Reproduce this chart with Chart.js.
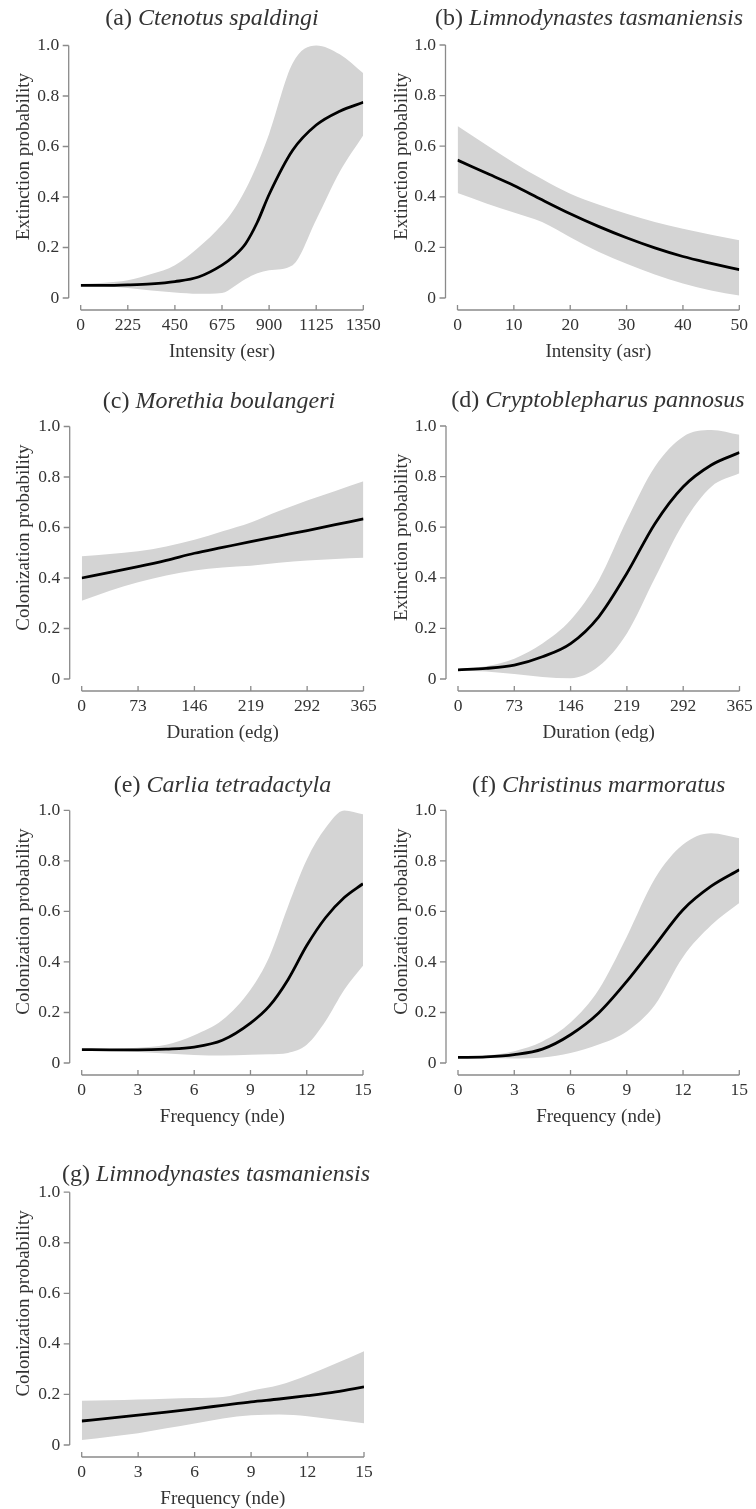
<!DOCTYPE html>
<html>
<head>
<meta charset="utf-8">
<script src="https://cdn.jsdelivr.net/npm/chart.js@4.4.1/dist/chart.umd.min.js"></script>
<style>
  html, body { margin: 0; padding: 0; background: #fff; overflow: hidden; }
  body { width: 756px; height: 1509px; position: relative; }
  canvas { position: absolute; }
  .panel-title {
    position: absolute;
    font-family: "Liberation Serif", "Times New Roman", serif;
    font-size: 24px;
    line-height: 24px;
    color: #333;
    white-space: nowrap;
    transform: translateX(-50%);
  }
  .panel-title i { font-style: italic; }
</style>
</head>
<body>
<script>
// ---- Shared y axis (probability) ----
const yTickValues = [0, 0.2, 0.4, 0.6, 0.8, 1.0];
const yTickLabels = ['0', '0.2', '0.4', '0.6', '0.8', '1.0'];

// ---- (a) Ctenotus spaldingi: extinction vs intensity (esr) ----
const aTicks = [0, 225, 450, 675, 900, 1125, 1350];
const aX     = [0, 112.5, 225, 337.5, 450, 562.5, 675, 731.25, 787.5, 843.75, 900, 1012.5, 1125, 1237.5, 1350];
const aMean  = [0.05, 0.05, 0.052, 0.056, 0.065, 0.083, 0.13, 0.165, 0.215, 0.3, 0.41, 0.585, 0.685, 0.74, 0.775];
const aUpper = [0.055, 0.06, 0.07, 0.095, 0.13, 0.2, 0.29, 0.35, 0.43, 0.53, 0.65, 0.93, 1.0, 0.965, 0.89];
const aLower = [0.05, 0.048, 0.04, 0.03, 0.022, 0.017, 0.02, 0.045, 0.075, 0.098, 0.11, 0.13, 0.31, 0.5, 0.645];

// ---- (b) Limnodynastes tasmaniensis: extinction vs intensity (asr) ----
const bTicks = [0, 10, 20, 30, 40, 50];
const bX     = [0, 5, 10, 15, 20, 25, 30, 35, 40, 45, 50];
const bMean  = [0.545, 0.495, 0.445, 0.388, 0.333, 0.283, 0.238, 0.198, 0.164, 0.137, 0.112];
const bUpper = [0.68, 0.607, 0.535, 0.47, 0.412, 0.37, 0.333, 0.3, 0.274, 0.25, 0.228];
const bLower = [0.415, 0.375, 0.338, 0.3, 0.24, 0.183, 0.135, 0.093, 0.057, 0.03, 0.01];

// ---- (c) Morethia boulangeri: colonization vs duration (edg) ----
const cTicks = [0, 73, 146, 219, 292, 365];
const cX     = [0, 36.5, 73, 109.5, 146, 182.5, 219, 255.5, 292, 328.5, 365];
const cMean  = [0.40, 0.422, 0.445, 0.47, 0.498, 0.521, 0.544, 0.566, 0.588, 0.611, 0.634];
const cUpper = [0.486, 0.495, 0.506, 0.525, 0.551, 0.585, 0.62, 0.665, 0.707, 0.745, 0.783];
const cLower = [0.31, 0.35, 0.383, 0.41, 0.43, 0.442, 0.449, 0.46, 0.469, 0.475, 0.48];

// ---- (d) Cryptoblepharus pannosus: extinction vs duration (edg) ----
const dTicks = [0, 73, 146, 219, 292, 365];
const dX     = [0, 36.5, 73, 109.5, 146, 182.5, 219, 255.5, 292, 328.5, 365];
const dMean  = [0.036, 0.042, 0.055, 0.088, 0.14, 0.246, 0.418, 0.615, 0.76, 0.846, 0.895];
const dUpper = [0.04, 0.05, 0.08, 0.14, 0.233, 0.39, 0.628, 0.84, 0.958, 0.984, 0.965];
const dLower = [0.033, 0.03, 0.02, 0.008, 0.003, 0.05, 0.18, 0.40, 0.615, 0.76, 0.813];

// ---- (e) Carlia tetradactyla: colonization vs frequency (nde) ----
const eTicks = [0, 3, 6, 9, 12, 15];
const eX     = [0, 1.5, 3, 4.5, 6, 7.5, 9, 10, 11, 12, 13, 14, 15];
const eMean  = [0.053, 0.052, 0.052, 0.055, 0.063, 0.09, 0.158, 0.225, 0.33, 0.465, 0.575, 0.655, 0.71];
const eUpper = [0.055, 0.056, 0.06, 0.072, 0.11, 0.17, 0.29, 0.42, 0.62, 0.805, 0.93, 1.0, 0.985];
const eLower = [0.05, 0.048, 0.044, 0.038, 0.032, 0.03, 0.033, 0.035, 0.04, 0.072, 0.165, 0.29, 0.385];

// ---- (f) Christinus marmoratus: colonization vs frequency (nde) ----
const fTicks = [0, 3, 6, 9, 12, 15];
const fX     = [0, 1.5, 3, 4.5, 6, 7.5, 9, 10.5, 12, 13.5, 15];
const fMean  = [0.022, 0.024, 0.033, 0.055, 0.112, 0.198, 0.323, 0.465, 0.607, 0.7, 0.765];
const fUpper = [0.025, 0.03, 0.047, 0.085, 0.16, 0.29, 0.5, 0.73, 0.865, 0.91, 0.89];
const fLower = [0.02, 0.02, 0.018, 0.022, 0.04, 0.073, 0.125, 0.23, 0.42, 0.545, 0.633];

// ---- (g) Limnodynastes tasmaniensis: colonization vs frequency (nde) ----
const gTicks = [0, 3, 6, 9, 12, 15];
const gX     = [0, 1.5, 3, 4.5, 6, 7.5, 9, 10.5, 12, 13.5, 15];
const gMean  = [0.095, 0.106, 0.118, 0.13, 0.143, 0.157, 0.171, 0.182, 0.195, 0.21, 0.23];
const gUpper = [0.175, 0.177, 0.18, 0.183, 0.186, 0.19, 0.215, 0.237, 0.276, 0.322, 0.371];
const gLower = [0.02, 0.033, 0.046, 0.066, 0.085, 0.105, 0.118, 0.121, 0.114, 0.1, 0.086];

// ---- Panel labels ----
const panelLetters = ['(a)', '(b)', '(c)', '(d)', '(e)', '(f)', '(g)'];
const speciesNames = ['Ctenotus spaldingi', 'Limnodynastes tasmaniensis', 'Morethia boulangeri',
  'Cryptoblepharus pannosus', 'Carlia tetradactyla', 'Christinus marmoratus', 'Limnodynastes tasmaniensis'];
const xTitles = ['Intensity (esr)', 'Intensity (asr)', 'Duration (edg)', 'Duration (edg)',
  'Frequency (nde)', 'Frequency (nde)', 'Frequency (nde)'];
const yTitles = ['Extinction probability', 'Extinction probability', 'Colonization probability',
  'Extinction probability', 'Colonization probability', 'Colonization probability', 'Colonization probability'];

const series = [
  { ticks: aTicks, x: aX, mean: aMean, upper: aUpper, lower: aLower },
  { ticks: bTicks, x: bX, mean: bMean, upper: bUpper, lower: bLower },
  { ticks: cTicks, x: cX, mean: cMean, upper: cUpper, lower: cLower },
  { ticks: dTicks, x: dX, mean: dMean, upper: dUpper, lower: dLower },
  { ticks: eTicks, x: eX, mean: eMean, upper: eUpper, lower: eLower },
  { ticks: fTicks, x: fX, mean: fMean, upper: fUpper, lower: fLower },
  { ticks: gTicks, x: gX, mean: gMean, upper: gUpper, lower: gLower }
];

// ---- Page layout: plot-region corners in page pixels, title centre / baseline ----
const frames = [
  { col: 0, x0: 80.7,  x1: 363.3, y1: 45,     y0: 297.5,  tx: 212,   tb: 25 },
  { col: 1, x0: 457.5, x1: 739.3, y1: 44.5,   y0: 297.5,  tx: 589,   tb: 25 },
  { col: 0, x0: 81.7,  x1: 363.5, y1: 426,    y0: 678.5,  tx: 219,   tb: 408 },
  { col: 1, x0: 458,   x1: 739.5, y1: 426,    y0: 679,    tx: 598,   tb: 406.7 },
  { col: 0, x0: 81.7,  x1: 363,   y1: 810.7,  y0: 1063.3, tx: 222.5, tb: 792 },
  { col: 1, x0: 458,   x1: 739.3, y1: 810.7,  y0: 1063.3, tx: 598.7, tb: 792.3 },
  { col: 0, x0: 81.7,  x1: 364,   y1: 1191.7, y0: 1444.5, tx: 216,   tb: 1181 }
];

const FONT = '"Liberation Serif", "Times New Roman", serif';
const TEXT = '#333';
const AXIS = '#8a8a8a';
const BAND = '#d4d4d4';
const Y_MAX = 1.12;      // head-room above 1.0 so the axis title sits a little high
const X_AXIS_H = 75;     // height reserved under the plot for x ticks + title

// R-style detached axes: y line left of the data, x line below it, short tick marks
const detachedAxes = {
  id: 'detachedAxes',
  afterDraw(chart) {
    const { ctx, chartArea, scales: { x, y } } = chart;
    const gap = 12;
    ctx.save();
    ctx.strokeStyle = AXIS;
    ctx.lineWidth = 1.3;
    ctx.beginPath();
    const ax = chartArea.left - gap;
    const yTop = y.getPixelForValue(yTickValues[yTickValues.length - 1]);
    const yBot = y.getPixelForValue(yTickValues[0]);
    ctx.moveTo(ax, yTop);
    ctx.lineTo(ax, yBot);
    y.ticks.forEach(t => {
      const p = y.getPixelForValue(t.value);
      ctx.moveTo(ax, p);
      ctx.lineTo(ax - 6, p);
    });
    const ay = yBot + gap;
    ctx.moveTo(x.getPixelForValue(x.min), ay);
    ctx.lineTo(x.getPixelForValue(x.max), ay);
    x.ticks.forEach(t => {
      const p = x.getPixelForValue(t.value);
      ctx.moveTo(p, ay);
      ctx.lineTo(p, ay - 5);
    });
    ctx.stroke();
    ctx.restore();
  }
};

function points(xs, ys) {
  return xs.map((v, i) => ({ x: v, y: ys[i] }));
}

series.forEach((s, i) => {
  const fr = frames[i];
  const cL = fr.col === 0 ? 0 : 378;
  const cW = 420;
  const cT = Math.round(fr.y1 - 70);
  const cH = Math.round(fr.y0 - cT + X_AXIS_H);
  const chartBottom = cH - X_AXIS_H;
  const chartTop = chartBottom - Y_MAX * (fr.y0 - fr.y1);
  const chartLeft = fr.x0 - cL;
  const chartRight = fr.x1 - cL;

  const canvas = document.createElement('canvas');
  canvas.width = cW;
  canvas.height = cH;
  canvas.style.left = cL + 'px';
  canvas.style.top = cT + 'px';
  canvas.style.width = cW + 'px';
  canvas.style.height = cH + 'px';
  document.body.appendChild(canvas);

  const title = document.createElement('div');
  title.className = 'panel-title';
  title.style.left = fr.tx + 'px';
  title.style.top = (fr.tb - 20.1) + 'px';
  title.appendChild(document.createTextNode(panelLetters[i] + ' '));
  const it = document.createElement('i');
  it.textContent = speciesNames[i];
  title.appendChild(it);
  document.body.appendChild(title);

  new Chart(canvas, {
    type: 'line',
    data: {
      datasets: [
        {
          data: points(s.x, s.mean),
          borderColor: '#000',
          borderWidth: 2.8,
          pointRadius: 0,
          fill: false,
          cubicInterpolationMode: 'monotone'
        },
        {
          data: points(s.x, s.upper),
          borderWidth: 0,
          borderColor: 'rgba(0,0,0,0)',
          backgroundColor: BAND,
          pointRadius: 0,
          fill: '+1',
          cubicInterpolationMode: 'monotone'
        },
        {
          data: points(s.x, s.lower),
          borderWidth: 0,
          borderColor: 'rgba(0,0,0,0)',
          pointRadius: 0,
          fill: false,
          cubicInterpolationMode: 'monotone'
        }
      ]
    },
    options: {
      responsive: false,
      animation: false,
      devicePixelRatio: 1,
      layout: { padding: { left: 0, top: chartTop, right: cW - chartRight, bottom: 0 } },
      plugins: { legend: { display: false }, tooltip: { enabled: false }, title: { display: false } },
      scales: {
        x: {
          type: 'linear',
          min: s.ticks[0],
          max: s.ticks[s.ticks.length - 1],
          grid: { display: false, drawTicks: false },
          border: { display: false },
          ticks: {
            autoSkip: false,
            maxRotation: 0,
            padding: 17,
            color: TEXT,
            font: { family: FONT, size: 17.5 },
            callback: v => String(v)
          },
          title: {
            display: true,
            text: xTitles[i],
            color: TEXT,
            font: { family: FONT, size: 19 },
            padding: { top: 0, bottom: 10 }
          },
          afterBuildTicks: sc => { sc.ticks = s.ticks.map(v => ({ value: v })); },
          afterFit: sc => { sc.height = X_AXIS_H; }
        },
        y: {
          type: 'linear',
          min: 0,
          max: Y_MAX,
          grid: { display: false, drawTicks: false },
          border: { display: false },
          ticks: {
            padding: 21.5,
            color: TEXT,
            font: { family: FONT, size: 17.5 },
            callback: (v, idx) => yTickLabels[idx]
          },
          title: {
            display: true,
            text: yTitles[i],
            color: TEXT,
            font: { family: FONT, size: 19 },
            padding: { top: 13, bottom: 0 }
          },
          afterBuildTicks: sc => { sc.ticks = yTickValues.map(v => ({ value: v })); },
          afterFit: sc => { sc.width = chartLeft; }
        }
      }
    },
    plugins: [detachedAxes]
  });
});
</script>
</body>
</html>
